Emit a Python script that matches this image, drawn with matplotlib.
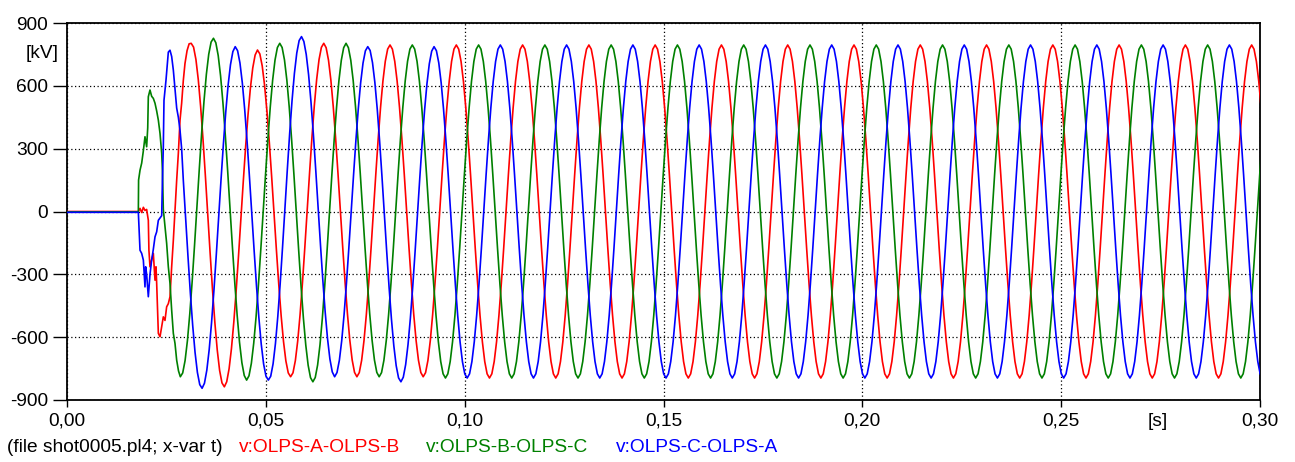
import numpy as np
import matplotlib
matplotlib.use("Agg")
import matplotlib.pyplot as plt

# ATP plot: line voltages after energising (shot0005.pl4)
FREQ = 60.0      # Hz
AMP = 795.0      # steady-state peak, kV
T_END = 0.30

# jagged start of each trace, read point by point (s, kV)
ab_onset_t = [0.0, 0.01794, 0.01836, 0.01878, 0.01920, 0.01961, 0.02003, 0.02045, 0.02060,
              0.02087, 0.02129, 0.02171, 0.02213, 0.02238, 0.02255, 0.02297, 0.02339, 0.02381,
              0.02422, 0.02464, 0.02506, 0.02548, 0.02590, 0.02632, 0.02674, 0.02716, 0.02758,
              0.02800, 0.02842, 0.02883, 0.02925, 0.02967]
ab_onset_v = [0, 0, 15, -5, 20, 5, 10, -42, -185,
              -264, -230, -200, -328, -264, -343, -582, -598, -551,
              -503, -520, -455, -440, -407, -264, -137, 6, 149,
              278, 436, 517, 626, 707]

bc_onset_t = [0.0, 0.01794, 0.01800, 0.01836, 0.01878, 0.01920, 0.01961, 0.02003, 0.02030,
              0.02045, 0.02087, 0.02129, 0.02171, 0.02213, 0.02255, 0.02297, 0.02339, 0.02381,
              0.02400, 0.02422, 0.02464, 0.02506, 0.02548, 0.02590, 0.02632, 0.02674, 0.02716,
              0.02758]
bc_onset_v = [-2, -2, 150, 197, 231, 290, 357, 309, 400,
              548, 580, 550, 540, 517, 480, 436, 373, 278,
              197, 10, -73, -152, -264, -343, -471, -582, -630,
              -710]

ca_onset_t = [0.0, 0.01794, 0.01836, 0.01878, 0.01920, 0.01961, 0.01978, 0.02003, 0.02045,
              0.02087, 0.02129, 0.02171, 0.02213, 0.02255, 0.02297, 0.02381, 0.02400, 0.02422,
              0.02439, 0.02489, 0.02548, 0.02590, 0.02632, 0.02674, 0.02758, 0.02800, 0.02842,
              0.02883, 0.02925]
ca_onset_v = [-4, -4, -185, -200, -232, -360, -264, -300, -407,
              -300, -232, -180, -121, -97, -42, -20, 150, 308,
              531, 626, 761, 770, 740, 675, 494, 450, 388,
              300, 149]

# half-cycle peaks during the transient (s, kV)
ab_ext_t = [0.03123, 0.03957, 0.04790, 0.05623, 0.06457, 0.07290, 0.08123, 0.08957]
ab_ext_v = [803, -837, 771, -789, 803, -789, 795, -789]

bc_ext_t = [0.02850, 0.03683, 0.04517, 0.05350, 0.06183, 0.07017, 0.07850, 0.08683, 0.09517]
bc_ext_v = [-789, 827, -805, 803, -813, 803, -789, 795, -795]

ca_ext_t = [0.03397, 0.04230, 0.05063, 0.05897, 0.06730, 0.07563, 0.08397, 0.09230]
ca_ext_v = [-844, 787, -805, 835, -789, 787, -813, 787]

labels = ["v:OLPS-A-OLPS-B", "v:OLPS-B-OLPS-C", "v:OLPS-C-OLPS-A"]
colors = ["#ff0000", "#008000", "#0000ff"]


def build(onset_t, onset_v, ext_t, ext_v, pts=14):
    half = 0.5 / FREQ
    w = 2 * np.pi * FREQ
    et, ev = list(ext_t), list(ext_v)
    while et[-1] < T_END + half:
        et.append(et[-1] + half)
        ev.append(-np.sign(ev[-1]) * AMP)
    t, v = list(onset_t), list(onset_v)
    t0, v0 = onset_t[-1], onset_v[-1]
    for t1, v1 in zip(et, ev):
        n = max(int(round((t1 - t0) / half * pts)), 2)
        tt = np.linspace(t0, t1, n + 1)[1:]
        vv = v1 * np.cos(w * (tt - t1)) + (v0 - v1 * np.cos(w * (t0 - t1))) * (t1 - tt) / (t1 - t0)
        t.extend(tt)
        v.extend(vv)
        t0, v0 = t1, v1
    return np.array(t), np.array(v)


plt.rcParams["font.family"] = ["Liberation Sans", "DejaVu Sans"]
plt.rcParams["font.size"] = 13.8
plt.rcParams["axes.unicode_minus"] = False

W, H = 1295, 462
fig = plt.figure(figsize=(W / 100, H / 100), dpi=100)
ax = fig.add_axes([67 / W, 1 - 400 / H, (1260 - 67) / W, (400 - 23) / H])

traces = [
    build(ab_onset_t, ab_onset_v, ab_ext_t, ab_ext_v),
    build(bc_onset_t, bc_onset_v, bc_ext_t, bc_ext_v),
    build(ca_onset_t, ca_onset_v, ca_ext_t, ca_ext_v),
]
for (t, v), c in zip(traces, colors):
    ax.plot(t, v, color=c, lw=1.2, zorder=3)

ax.set_xlim(0, T_END)
ax.set_ylim(-900, 900)
xt = np.arange(0, 0.301, 0.05)
ax.set_xticks(xt)
ax.set_xticklabels([("%.2f" % x).replace(".", ",") for x in xt])
ax.set_yticks(range(-900, 901, 300))
ax.grid(True, ls=(0, (1, 2)), color="k", lw=0.9, zorder=1)
ax.tick_params(axis="y", length=10, width=1, pad=3.5)
ax.tick_params(axis="x", length=5, width=1, pad=4)
for s in ax.spines.values():
    s.set_linewidth(1.3)

fig.text(42 / W, 1 - 53 / H, "[kV]", ha="center", va="center")
fig.text(1158 / W, 1 - 421 / H, "[s]", ha="center", va="center")

fig.text(7 / W, 1 - 447 / H, "(file shot0005.pl4; x-var t)", ha="left", va="center")
for x, lab, c in zip([239, 426, 616], labels, colors):
    fig.text(x / W, 1 - 447 / H, lab, color=c, ha="left", va="center")

fig.savefig("out.png", dpi=100)
